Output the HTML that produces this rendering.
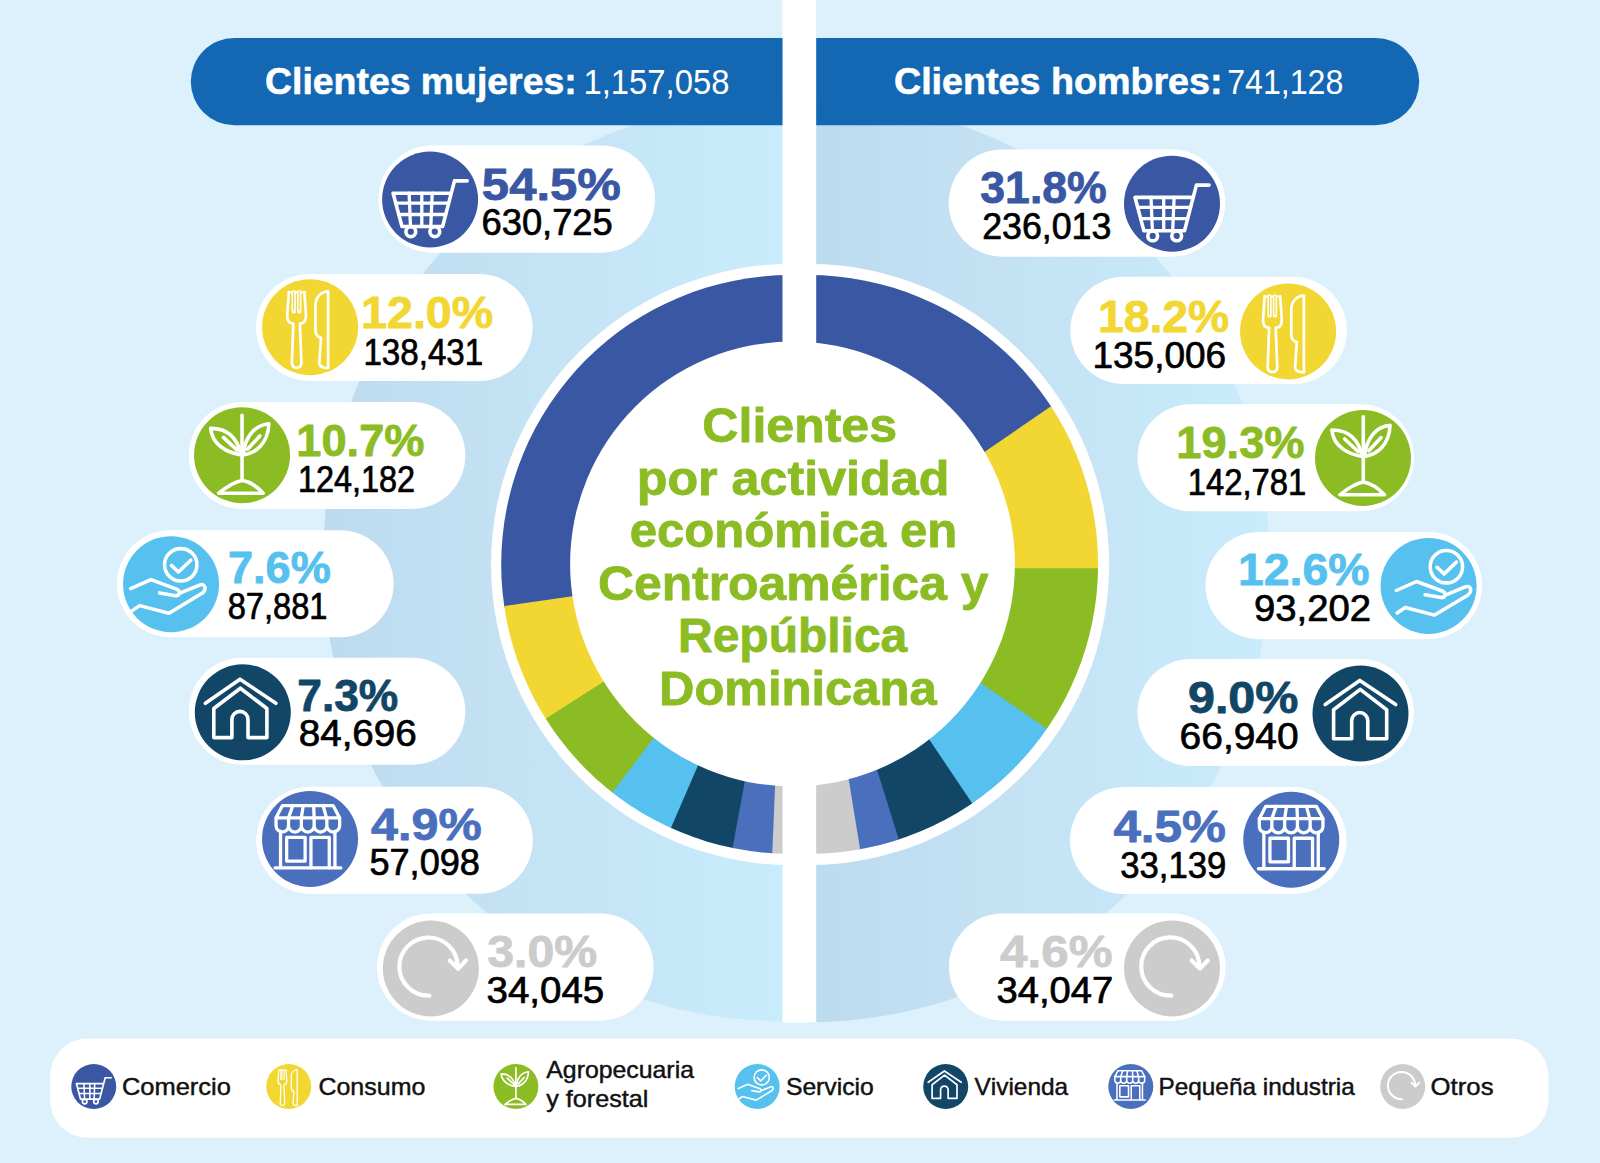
<!DOCTYPE html>
<html lang="es"><head><meta charset="utf-8"><title>Clientes por actividad económica</title>
<style>html,body{margin:0;padding:0;background:#dcf1fb}svg{display:block}text{font-family:"Liberation Sans",sans-serif;font-kerning:none}</style></head><body>
<svg width="1600" height="1163" viewBox="0 0 1600 1163">
<defs>
<linearGradient id="gl" gradientUnits="userSpaceOnUse" x1="324" y1="0" x2="783" y2="0"><stop offset="0" stop-color="#bddbef"/><stop offset="0.35" stop-color="#c3e1f3"/><stop offset="1" stop-color="#c9ecfc"/></linearGradient>
<linearGradient id="gr" gradientUnits="userSpaceOnUse" x1="816" y1="0" x2="1272" y2="0"><stop offset="0" stop-color="#bddbef"/><stop offset="0.35" stop-color="#c3e1f3"/><stop offset="1" stop-color="#c9ecfc"/></linearGradient>
<clipPath id="cl"><circle cx="790.6" cy="564.5" r="289.4"/></clipPath>
<clipPath id="cr"><circle cx="808.7" cy="564.5" r="289.4"/></clipPath>
<g id="i-cart" fill="none" stroke="#fff" stroke-width="3.6" stroke-linecap="round" stroke-linejoin="round">
<path d="M37.1,-18.6 H24.4 L12.5,27 H-28.1 L-37,-6.3 H20.8"/>
<path d="M-34.2,3.6 H18.6 M-31,15 H15.6 M-21,-6.3 L-19.6,27 M-8.3,-6.3 V27 M2.1,-6.3 L0.7,27" stroke-width="3.3"/>
<circle cx="-19.3" cy="32.2" r="4.9"/><circle cx="4.7" cy="32.2" r="4.9"/>
</g>
<g id="i-fork" fill="none" stroke="#fff" stroke-width="2.7" stroke-linecap="round" stroke-linejoin="round">
<path d="M-21.3,-35 C-21.8,-25 -22.8,-17 -22.8,-11 C-22.8,-6.5 -20.5,-3.8 -16.8,-3.6 L-18.2,35.6 C-18.3,38.8 -16.3,40.6 -13.5,40.6 C-10.7,40.6 -8.6,38.8 -8.7,35.6 L-10.2,-3.6 C-6.5,-3.8 -4.2,-6.5 -4.2,-11 C-4.2,-17 -5.2,-25 -5.7,-35"/>
<path d="M-16.4,-35 V-16 M-10.9,-35 V-16" stroke-width="4.4"/>
<path d="M-16.4,-36 V-16.4 M-10.9,-36 V-16.4" stroke="#f2d732" stroke-width="1.1" stroke-linecap="butt"/>
<path d="M-21.3,-35 H-18 M-14.6,-35 H-12.7 M-9,-35 H-5.7" stroke-width="2"/>
<path d="M18,-35.8 V40.8 H15.5 C11.5,40.3 9.2,38.5 9.2,35.6 L10.9,10.6 C7,9.5 5.4,7 5.4,3.5 V-22 C5.4,-30 11,-35.5 18,-35.8 Z"/>
</g>
<g id="i-plant" fill="none" stroke="#fff" stroke-width="3.6" stroke-linecap="round" stroke-linejoin="round">
<path d="M0,-40 V24.3"/>
<path d="M-23.4,38 Q-10,27 0,25.2 Q11,27 21.1,38 Z"/>
<path d="M-0.7,-0.3 C-14,-2 -30,-10 -31.4,-26.8 C-15,-27 -5,-18 -0.7,-0.3 Z"/>
<path d="M1.2,-0.3 C14,-2 26,-12 26.8,-31.5 C12,-30 3,-18 1.2,-0.3 Z"/>
<path d="M-18.6,-17.8 L-4.9,-5.1 M17.8,-19.2 L5.5,-6"/>
</g>
<g id="i-hand" fill="none" stroke="#fff" stroke-width="3.55" stroke-linecap="round" stroke-linejoin="round">
<circle cx="9.7" cy="-19.4" r="16.2"/>
<path d="M0.3,-18.8 L7.4,-12.2 L19.7,-24"/>
<path d="M-40.4,4.4 L-20.1,-4.6 L5.5,4.9 C9.5,6.4 9,11.8 4.5,11.5 L-11.5,8.7"/>
<path d="M9.3,8.7 L29.1,0.6 C33.5,-1 36.5,4.5 31,9.1 L-2.1,29 L-31.4,21.4 L-39.6,26.9"/>
</g>
<g id="i-house" fill="none" stroke="#fff" stroke-width="3.6" stroke-linecap="round" stroke-linejoin="round">
<path d="M-37.4,-9 L-2.8,-33.1 L33.1,-9"/>
<path d="M-2.4,-24.1 L-29,-3.8 V25.3 H-10.9 V7.1 A8.05,8.05 0 0 1 5.2,7.1 V25.3 H24.1 V-3.8 Z"/>
</g>
<g id="i-shop" fill="none" stroke="#fff" stroke-width="3.3" stroke-linecap="round" stroke-linejoin="round">
<path d="M-27.6,-33.4 H23 L29.6,-21.1 H-34 Z"/>
<path d="M-17.2,-33.4 L-21.5,-21.1 M-6.8,-33.4 L-8.7,-21.1 M3.6,-33.4 L4.1,-21.1 M13.1,-33.4 L16.4,-21.1"/>
<path d="M-34,-21.1 V-13.3 A6.25,6.25 0 0 0 -21.5,-13.3 V-21.1 M-21.5,-13.3 A6.4,6.4 0 0 0 -8.7,-13.3 V-21.1 M-8.7,-13.3 A6.4,6.4 0 0 0 4.1,-13.3 V-21.1 M4.1,-13.3 A6.35,6.35 0 0 0 16.8,-13.3 V-21.1 M16.8,-13.3 A6.4,6.4 0 0 0 29.6,-13.3 V-21.1"/>
<path d="M-29.5,-7.7 V28.8 M24.9,-7.7 V28.8 M-35,29 H30.8"/>
<rect x="-23.4" y="-1.5" width="18.5" height="23.6"/>
<path d="M0.9,28.8 V-1.5 H19.2 V28.8"/>
</g>
<g id="i-arrow" fill="none" stroke="#fff" stroke-width="4.2" stroke-linecap="round" stroke-linejoin="round">
<path d="M-1.4,27.2 A29.1,29.1 0 1 1 26.7,-2.5"/>
<path d="M18.9,-7.9 L27.2,0.2 L35,-7.9"/>
</g>
</defs>
<rect width="1600" height="1163" fill="#dcf1fb"/>
<path d="M784,99.3 A461,461 0 0 0 784,1021.3 Z" fill="url(#gl)"/>
<path d="M808,99 A461.6,461.6 0 0 1 808,1022.2 Z" fill="url(#gr)"/>
<path d="M791.5,263.9 A300.6,300.6 0 0 0 791.5,865.1 Z" fill="#fff"/>
<path d="M808.7,263.9 A300.6,300.6 0 0 1 808.7,865.1 Z" fill="#fff"/>
<rect x="786" y="263.9" width="28" height="601.2" fill="#fff"/>
<g clip-path="url(#cl)">
<polygon points="784.3,565.9 828.2,148.2 791.8,146.0 755.4,146.9 719.2,151.0 683.4,158.2 648.5,168.5 614.5,181.7 581.9,197.9 550.7,216.8 521.3,238.4 493.9,262.4 468.7,288.8 445.9,317.2 425.6,347.4 408.0,379.4 393.2,412.7 381.4,447.2 372.7,482.6 367.0,518.6 364.4,554.9 365.1,591.4 368.9,627.6" fill="#3957a2"/>
<polygon points="784.3,565.9 368.5,625.4 375.2,661.1 385.0,696.0 397.7,730.0 413.3,762.8 431.7,794.0" fill="#f2d732"/>
<polygon points="784.3,565.9 430.5,792.2 447.6,816.9 466.4,840.3 486.8,862.4 508.8,882.9 532.1,901.8" fill="#8bbc24"/>
<polygon points="784.3,565.9 530.4,900.4 558.6,920.1 588.4,937.4 619.5,952.2" fill="#56c1ef"/>
<polygon points="784.3,565.9 617.5,951.4 647.8,963.1 678.9,972.5 710.6,979.4" fill="#124667"/>
<polygon points="784.3,565.9 708.5,979.0 738.6,983.4 768.9,985.6" fill="#496fbd"/>
<polygon points="784.3,565.9 766.7,985.5 793.8,985.8 820.9,984.3" fill="#cccccc"/>
</g>
<g clip-path="url(#cr)">
<polygon points="814.4,568.6 777.8,150.2 812.1,148.6 846.3,149.8 880.4,153.8 914.0,160.6 947.0,170.1 979.1,182.2 1010.1,197.0 1039.7,214.2 1067.9,233.7 1094.4,255.5 1119.0,279.4 1141.6,305.3 1162.0,332.8" fill="#3957a2"/>
<polygon points="814.4,568.6 1160.7,331.0 1179.9,361.8 1196.4,394.1 1210.1,427.7 1220.7,462.4 1228.4,497.8 1233.0,533.8 1234.4,570.1" fill="#f2d732"/>
<polygon points="814.4,568.6 1234.4,567.9 1232.9,604.4 1228.2,640.7 1220.3,676.4 1209.4,711.4 1195.5,745.2 1178.7,777.7 1159.1,808.6" fill="#8bbc24"/>
<polygon points="814.4,568.6 1160.3,806.8 1141.2,832.5 1120.1,856.6 1097.3,879.0 1072.8,899.7 1046.8,918.4" fill="#56c1ef"/>
<polygon points="814.4,568.6 1048.7,917.2 1022.3,933.5 994.9,947.8 966.5,960.1 937.2,970.2" fill="#124667"/>
<polygon points="814.4,568.6 939.3,969.6 909.8,977.6 879.7,983.5" fill="#496fbd"/>
<polygon points="814.4,568.6 881.9,983.1 847.4,987.3 812.6,988.6 777.8,987.0" fill="#cccccc"/>
</g>
<circle cx="792.5" cy="564" r="222.4" fill="#fff"/>
<rect x="782.5" y="0" width="33.7" height="1022.5" fill="#fff"/>
<path d="M782.5,38 H234.4 A43.6,43.6 0 0 0 234.4,125.2 H782.5 Z" fill="#1467b3"/>
<path d="M816.2,38 H1375.6 A43.6,43.6 0 0 1 1375.6,125.2 H816.2 Z" fill="#1467b3"/>
<text x="265.07" y="93.70" font-size="37.80" font-weight="bold" fill="#fff" textLength="311.63" lengthAdjust="spacingAndGlyphs" stroke="#fff" stroke-width="0.60" stroke-linejoin="round">Clientes mujeres:</text>
<text x="583.50" y="93.70" font-size="35.50" font-weight="normal" fill="#fff" textLength="145.92" lengthAdjust="spacingAndGlyphs">1,157,058</text>
<text x="893.96" y="93.70" font-size="37.80" font-weight="bold" fill="#fff" textLength="328.57" lengthAdjust="spacingAndGlyphs" stroke="#fff" stroke-width="0.60" stroke-linejoin="round">Clientes hombres:</text>
<text x="1227.15" y="93.70" font-size="35.50" font-weight="normal" fill="#fff" textLength="116.25" lengthAdjust="spacingAndGlyphs">741,128</text>
<text x="702.35" y="442.10" font-size="48.00" font-weight="bold" fill="#8bbc24" textLength="194.71" lengthAdjust="spacingAndGlyphs" stroke="#8bbc24" stroke-width="0.80" stroke-linejoin="round">Clientes</text>
<text x="636.69" y="494.50" font-size="48.00" font-weight="bold" fill="#8bbc24" textLength="312.72" lengthAdjust="spacingAndGlyphs" stroke="#8bbc24" stroke-width="0.80" stroke-linejoin="round">por actividad</text>
<text x="629.68" y="546.70" font-size="48.00" font-weight="bold" fill="#8bbc24" textLength="327.67" lengthAdjust="spacingAndGlyphs" stroke="#8bbc24" stroke-width="0.80" stroke-linejoin="round">económica en</text>
<text x="597.96" y="599.80" font-size="48.00" font-weight="bold" fill="#8bbc24" textLength="390.61" lengthAdjust="spacingAndGlyphs" stroke="#8bbc24" stroke-width="0.80" stroke-linejoin="round">Centroamérica y</text>
<text x="677.99" y="652.00" font-size="48.00" font-weight="bold" fill="#8bbc24" textLength="229.31" lengthAdjust="spacingAndGlyphs" stroke="#8bbc24" stroke-width="0.80" stroke-linejoin="round">República</text>
<text x="659.02" y="704.50" font-size="48.00" font-weight="bold" fill="#8bbc24" textLength="277.77" lengthAdjust="spacingAndGlyphs" stroke="#8bbc24" stroke-width="0.80" stroke-linejoin="round">Dominicana</text>
<rect x="378.40" y="145.50" width="276.6" height="107.2" rx="53.6" fill="#fff"/>
<circle cx="430.10" cy="199.50" r="48" fill="#3957a2"/>
<use href="#i-cart" x="430.10" y="199.50"/>
<text x="481.89" y="199.90" font-size="44.30" font-weight="bold" fill="#3957a2" textLength="139.00" lengthAdjust="spacingAndGlyphs" stroke="#3957a2" stroke-width="0.80" stroke-linejoin="round">54.5%</text>
<text x="481.51" y="235.40" font-size="36.00" font-weight="normal" fill="#000" textLength="131.27" lengthAdjust="spacingAndGlyphs" stroke="#000" stroke-width="0.70" stroke-linejoin="round">630,725</text>
<rect x="256.00" y="273.90" width="276.6" height="107.2" rx="53.6" fill="#fff"/>
<circle cx="310.10" cy="327.20" r="48" fill="#f2d732"/>
<use href="#i-fork" x="310.10" y="327.20"/>
<text x="361.06" y="327.90" font-size="44.30" font-weight="bold" fill="#f2d732" textLength="132.17" lengthAdjust="spacingAndGlyphs" stroke="#f2d732" stroke-width="0.80" stroke-linejoin="round">12.0%</text>
<text x="363.42" y="364.80" font-size="36.00" font-weight="normal" fill="#000" textLength="119.84" lengthAdjust="spacingAndGlyphs" stroke="#000" stroke-width="0.70" stroke-linejoin="round">138,431</text>
<rect x="188.75" y="401.90" width="276.6" height="107.2" rx="53.6" fill="#fff"/>
<circle cx="242.05" cy="455.20" r="48" fill="#8bbc24"/>
<use href="#i-plant" x="242.05" y="455.20"/>
<text x="296.30" y="455.90" font-size="44.30" font-weight="bold" fill="#8bbc24" textLength="128.24" lengthAdjust="spacingAndGlyphs" stroke="#8bbc24" stroke-width="0.80" stroke-linejoin="round">10.7%</text>
<text x="297.88" y="492.05" font-size="36.00" font-weight="normal" fill="#000" textLength="117.15" lengthAdjust="spacingAndGlyphs" stroke="#000" stroke-width="0.70" stroke-linejoin="round">124,182</text>
<rect x="117.00" y="530.15" width="276.6" height="107.2" rx="53.6" fill="#fff"/>
<circle cx="171.05" cy="584.20" r="48" fill="#56c1ef"/>
<use href="#i-hand" x="171.05" y="584.20"/>
<text x="227.96" y="583.40" font-size="44.30" font-weight="bold" fill="#56c1ef" textLength="102.83" lengthAdjust="spacingAndGlyphs" stroke="#56c1ef" stroke-width="0.80" stroke-linejoin="round">7.6%</text>
<text x="227.68" y="619.30" font-size="36.00" font-weight="normal" fill="#000" textLength="99.81" lengthAdjust="spacingAndGlyphs" stroke="#000" stroke-width="0.70" stroke-linejoin="round">87,881</text>
<rect x="188.75" y="657.65" width="276.6" height="107.2" rx="53.6" fill="#fff"/>
<circle cx="242.80" cy="712.30" r="48" fill="#124667"/>
<use href="#i-house" x="242.80" y="712.30"/>
<text x="297.25" y="711.20" font-size="44.30" font-weight="bold" fill="#124667" textLength="101.02" lengthAdjust="spacingAndGlyphs" stroke="#124667" stroke-width="0.80" stroke-linejoin="round">7.3%</text>
<text x="298.67" y="746.30" font-size="36.00" font-weight="normal" fill="#000" textLength="118.18" lengthAdjust="spacingAndGlyphs" stroke="#000" stroke-width="0.70" stroke-linejoin="round">84,696</text>
<rect x="256.25" y="786.65" width="276.6" height="107.2" rx="53.6" fill="#fff"/>
<circle cx="310.05" cy="838.95" r="48" fill="#496fbd"/>
<use href="#i-shop" x="310.05" y="838.95"/>
<text x="370.91" y="839.60" font-size="44.30" font-weight="bold" fill="#496fbd" textLength="110.72" lengthAdjust="spacingAndGlyphs" stroke="#496fbd" stroke-width="0.80" stroke-linejoin="round">4.9%</text>
<text x="369.40" y="875.40" font-size="36.00" font-weight="normal" fill="#000" textLength="110.57" lengthAdjust="spacingAndGlyphs" stroke="#000" stroke-width="0.70" stroke-linejoin="round">57,098</text>
<rect x="377.00" y="913.50" width="276.6" height="107.2" rx="53.6" fill="#fff"/>
<circle cx="430.86" cy="968.50" r="48" fill="#cccccc"/>
<use href="#i-arrow" x="430.86" y="968.50"/>
<text x="487.29" y="967.20" font-size="44.30" font-weight="bold" fill="#cccccc" textLength="109.98" lengthAdjust="spacingAndGlyphs" stroke="#cccccc" stroke-width="0.80" stroke-linejoin="round">3.0%</text>
<text x="486.48" y="1003.20" font-size="36.00" font-weight="normal" fill="#000" textLength="117.78" lengthAdjust="spacingAndGlyphs" stroke="#000" stroke-width="0.70" stroke-linejoin="round">34,045</text>
<rect x="948.70" y="149.50" width="276.6" height="107.2" rx="53.6" fill="#fff"/>
<circle cx="1172.00" cy="203.70" r="48" fill="#3957a2"/>
<use href="#i-cart" x="1172.00" y="203.70"/>
<text x="980.28" y="202.90" font-size="44.30" font-weight="bold" fill="#3957a2" textLength="126.50" lengthAdjust="spacingAndGlyphs" stroke="#3957a2" stroke-width="0.80" stroke-linejoin="round">31.8%</text>
<text x="982.15" y="239.40" font-size="36.00" font-weight="normal" fill="#000" textLength="129.17" lengthAdjust="spacingAndGlyphs" stroke="#000" stroke-width="0.70" stroke-linejoin="round">236,013</text>
<rect x="1070.30" y="276.80" width="276.6" height="107.2" rx="53.6" fill="#fff"/>
<circle cx="1288.10" cy="331.40" r="48" fill="#f2d732"/>
<use href="#i-fork" x="1285.90" y="331.40"/>
<text x="1097.98" y="331.50" font-size="44.30" font-weight="bold" fill="#f2d732" textLength="131.24" lengthAdjust="spacingAndGlyphs" stroke="#f2d732" stroke-width="0.80" stroke-linejoin="round">18.2%</text>
<text x="1092.54" y="367.80" font-size="36.00" font-weight="normal" fill="#000" textLength="133.54" lengthAdjust="spacingAndGlyphs" stroke="#000" stroke-width="0.70" stroke-linejoin="round">135,006</text>
<rect x="1137.50" y="404.15" width="276.6" height="107.2" rx="53.6" fill="#fff"/>
<circle cx="1363.00" cy="458.00" r="48" fill="#8bbc24"/>
<use href="#i-plant" x="1363.30" y="456.80"/>
<text x="1176.30" y="457.90" font-size="44.30" font-weight="bold" fill="#8bbc24" textLength="128.24" lengthAdjust="spacingAndGlyphs" stroke="#8bbc24" stroke-width="0.80" stroke-linejoin="round">19.3%</text>
<text x="1187.86" y="495.05" font-size="36.00" font-weight="normal" fill="#000" textLength="118.39" lengthAdjust="spacingAndGlyphs" stroke="#000" stroke-width="0.70" stroke-linejoin="round">142,781</text>
<rect x="1205.50" y="532.00" width="276.6" height="107.2" rx="53.6" fill="#fff"/>
<circle cx="1428.60" cy="585.90" r="48" fill="#56c1ef"/>
<use href="#i-hand" x="1436.70" y="586.10"/>
<text x="1237.98" y="585.10" font-size="44.30" font-weight="bold" fill="#56c1ef" textLength="131.60" lengthAdjust="spacingAndGlyphs" stroke="#56c1ef" stroke-width="0.80" stroke-linejoin="round">12.6%</text>
<text x="1254.06" y="621.10" font-size="36.00" font-weight="normal" fill="#000" textLength="117.02" lengthAdjust="spacingAndGlyphs" stroke="#000" stroke-width="0.70" stroke-linejoin="round">93,202</text>
<rect x="1137.50" y="658.90" width="276.6" height="107.2" rx="53.6" fill="#fff"/>
<circle cx="1360.50" cy="713.50" r="48" fill="#124667"/>
<use href="#i-house" x="1362.60" y="713.50"/>
<text x="1187.97" y="712.70" font-size="44.30" font-weight="bold" fill="#124667" textLength="110.41" lengthAdjust="spacingAndGlyphs" stroke="#124667" stroke-width="0.80" stroke-linejoin="round">9.0%</text>
<text x="1179.62" y="748.60" font-size="36.00" font-weight="normal" fill="#000" textLength="119.05" lengthAdjust="spacingAndGlyphs" stroke="#000" stroke-width="0.70" stroke-linejoin="round">66,940</text>
<rect x="1070.00" y="786.90" width="276.6" height="107.2" rx="53.6" fill="#fff"/>
<circle cx="1291.25" cy="839.75" r="48" fill="#496fbd"/>
<use href="#i-shop" x="1293.35" y="839.75"/>
<text x="1113.40" y="841.90" font-size="44.30" font-weight="bold" fill="#496fbd" textLength="112.50" lengthAdjust="spacingAndGlyphs" stroke="#496fbd" stroke-width="0.80" stroke-linejoin="round">4.5%</text>
<text x="1120.28" y="877.50" font-size="36.00" font-weight="normal" fill="#000" textLength="106.01" lengthAdjust="spacingAndGlyphs" stroke="#000" stroke-width="0.70" stroke-linejoin="round">33,139</text>
<rect x="949.00" y="913.50" width="276.6" height="107.2" rx="53.6" fill="#fff"/>
<circle cx="1172.00" cy="968.40" r="48" fill="#cccccc"/>
<use href="#i-arrow" x="1172.70" y="968.40"/>
<text x="1000.05" y="967.20" font-size="44.30" font-weight="bold" fill="#cccccc" textLength="112.45" lengthAdjust="spacingAndGlyphs" stroke="#cccccc" stroke-width="0.80" stroke-linejoin="round">4.6%</text>
<text x="996.50" y="1003.20" font-size="36.00" font-weight="normal" fill="#000" textLength="116.67" lengthAdjust="spacingAndGlyphs" stroke="#000" stroke-width="0.70" stroke-linejoin="round">34,047</text>
<rect x="50" y="1038.4" width="1498.4" height="99.4" rx="38" fill="#fff"/>
<circle cx="93.75" cy="1086.5" r="22.5" fill="#3957a2"/>
<g transform="translate(93.75,1086.5) scale(0.4688)"><use href="#i-cart"/></g>
<text x="121.93" y="1094.50" font-size="24.00" font-weight="normal" fill="#111" textLength="108.91" lengthAdjust="spacingAndGlyphs" stroke="#111" stroke-width="0.45" stroke-linejoin="round">Comercio</text>
<circle cx="288.75" cy="1086.5" r="22.5" fill="#f2d732"/>
<g transform="translate(288.75,1086.5) scale(0.4688)"><use href="#i-fork"/></g>
<text x="318.46" y="1094.50" font-size="24.00" font-weight="normal" fill="#111" textLength="106.87" lengthAdjust="spacingAndGlyphs" stroke="#111" stroke-width="0.45" stroke-linejoin="round">Consumo</text>
<circle cx="515.90" cy="1086.5" r="22.5" fill="#8bbc24"/>
<g transform="translate(515.90,1086.5) scale(0.4688)"><use href="#i-plant"/></g>
<circle cx="757.20" cy="1086.5" r="22.5" fill="#56c1ef"/>
<g transform="translate(757.20,1086.5) scale(0.4688)"><use href="#i-hand"/></g>
<text x="785.90" y="1094.50" font-size="24.00" font-weight="normal" fill="#111" textLength="87.91" lengthAdjust="spacingAndGlyphs" stroke="#111" stroke-width="0.45" stroke-linejoin="round">Servicio</text>
<circle cx="945.70" cy="1086.5" r="22.5" fill="#124667"/>
<g transform="translate(945.70,1086.5) scale(0.4688)"><use href="#i-house"/></g>
<text x="974.52" y="1094.50" font-size="24.00" font-weight="normal" fill="#111" textLength="93.66" lengthAdjust="spacingAndGlyphs" stroke="#111" stroke-width="0.45" stroke-linejoin="round">Vivienda</text>
<circle cx="1130.80" cy="1086.5" r="22.5" fill="#496fbd"/>
<g transform="translate(1130.80,1086.5) scale(0.4688)"><use href="#i-shop"/></g>
<text x="1158.53" y="1094.50" font-size="24.00" font-weight="normal" fill="#111" textLength="196.25" lengthAdjust="spacingAndGlyphs" stroke="#111" stroke-width="0.45" stroke-linejoin="round">Pequeña industria</text>
<circle cx="1402.70" cy="1086.5" r="22.5" fill="#cccccc"/>
<g transform="translate(1402.70,1086.5) scale(0.4688)"><use href="#i-arrow"/></g>
<text x="1430.61" y="1094.50" font-size="24.00" font-weight="normal" fill="#111" textLength="62.90" lengthAdjust="spacingAndGlyphs" stroke="#111" stroke-width="0.45" stroke-linejoin="round">Otros</text>
<text x="546.28" y="1078.00" font-size="24.00" font-weight="normal" fill="#111" textLength="147.70" lengthAdjust="spacingAndGlyphs" stroke="#111" stroke-width="0.45" stroke-linejoin="round">Agropecuaria</text>
<text x="546.26" y="1107.00" font-size="24.00" font-weight="normal" fill="#111" textLength="102.20" lengthAdjust="spacingAndGlyphs" stroke="#111" stroke-width="0.45" stroke-linejoin="round">y forestal</text>
</svg>
</body></html>
